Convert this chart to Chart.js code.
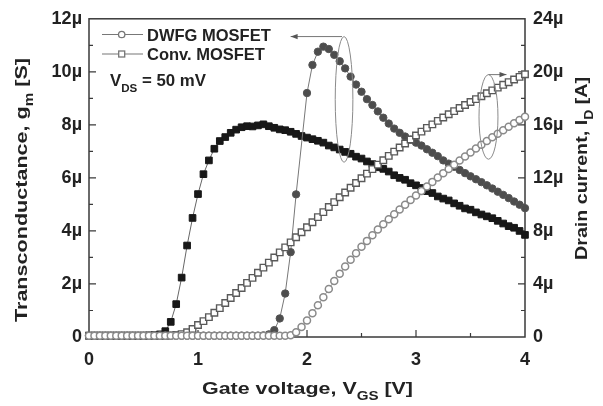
<!DOCTYPE html>
<html><head><meta charset="utf-8">
<script src="https://cdn.jsdelivr.net/npm/chart.js@4"></script>
<style>html,body{margin:0;padding:0;background:#fff}#wrap{width:603px;height:406px;position:relative}</style>
</head><body><div id="wrap"><canvas id="c" width="603" height="406"></canvas></div>
<script>
// Gate voltage (V)
const vgs = [0,0.05,0.1,0.15,0.2,0.25,0.3,0.35,0.4,0.45,
 0.5,0.55,0.6,0.65,0.7,0.75,0.8,0.85,0.9,0.95,
 1,1.05,1.1,1.15,1.2,1.25,1.3,1.35,1.4,1.45,
 1.5,1.55,1.6,1.65,1.7,1.75,1.8,1.85,1.9,1.95,
 2,2.05,2.1,2.15,2.2,2.25,2.3,2.35,2.4,2.45,
 2.5,2.55,2.6,2.65,2.7,2.75,2.8,2.85,2.9,2.95,
 3,3.05,3.1,3.15,3.2,3.25,3.3,3.35,3.4,3.45,
 3.5,3.55,3.6,3.65,3.7,3.75,3.8,3.85,3.9,3.95,
 4];
// Transconductance gm (µS), Conv. MOSFET (filled squares)
const gmConv = [0.05,0.05,0.05,0.05,0.05,0.05,0.05,0.05,0.05,0.05,
 0.05,0.06,0.07,0.10,0.22,0.57,1.24,2.24,3.45,4.49,
 5.39,6.14,6.66,7.10,7.39,7.54,7.70,7.82,7.91,7.95,
 7.94,7.98,8.02,7.95,7.89,7.83,7.80,7.74,7.66,7.58,
 7.52,7.46,7.40,7.33,7.22,7.15,7.07,6.98,6.91,6.80,
 6.73,6.62,6.52,6.40,6.34,6.24,6.10,6.00,5.93,5.80,
 5.72,5.62,5.50,5.43,5.30,5.22,5.15,5.04,4.95,4.85,
 4.80,4.70,4.62,4.55,4.48,4.38,4.28,4.18,4.12,4.00,
 3.85];
// Transconductance gm (µS), DWFG MOSFET (filled circles)
const gmDwfg = [0.05,0.05,0.05,0.05,0.05,0.05,0.05,0.05,0.05,0.05,
 0.05,0.05,0.05,0.05,0.05,0.05,0.05,0.05,0.05,0.05,
 0.05,0.05,0.05,0.05,0.05,0.05,0.05,0.05,0.05,0.05,
 0.05,0.05,0.06,0.10,0.26,0.70,1.64,3.20,5.38,null,
 9.20,10.26,10.76,10.95,10.86,10.64,10.40,10.13,9.82,9.52,
 9.25,8.97,8.75,8.51,8.27,8.05,7.86,7.70,7.56,7.44,
 7.33,7.22,7.08,6.95,6.82,6.66,6.54,6.42,6.30,6.18,
 6.06,5.95,5.84,5.72,5.60,5.48,5.36,5.24,5.11,4.99,
 4.86];
// Drain current ID (µA), Conv. MOSFET (open squares)
const idConv = [0.1,0.1,0.1,0.1,0.1,0.1,0.1,0.1,0.1,0.1,
 0.1,0.1,0.1,0.1,0.1,0.12,0.16,0.22,0.36,0.6,
 0.9,1.2,1.5,1.83,2.18,2.56,2.94,3.32,3.7,4.08,
 4.46,4.85,5.23,5.61,6.0,6.38,6.76,7.14,7.52,7.9,
 8.28,8.66,9.04,9.42,9.8,10.17,10.54,10.9,11.26,11.62,
 11.97,12.32,12.66,13.0,13.33,13.66,13.98,14.29,14.6,14.9,
 15.2,15.49,15.77,16.04,16.3,16.56,16.8,17.04,17.27,17.5,
 17.72,17.94,18.16,18.38,18.6,18.81,19.02,19.22,19.42,19.62,
 19.82];
// Drain current ID (µA), DWFG MOSFET (open circles)
const idDwfg = [0.1,0.1,0.1,0.1,0.1,0.1,0.1,0.1,0.1,0.1,
 0.1,0.1,0.1,0.1,0.1,0.1,0.1,0.1,0.1,0.1,
 0.1,0.1,0.1,0.1,0.1,0.1,0.1,0.1,0.1,0.1,
 0.1,0.1,0.1,0.1,0.1,0.1,0.1,0.14,0.35,0.75,
 1.25,1.8,2.4,3.0,3.62,4.22,4.78,5.32,5.83,6.32,
 6.8,7.25,7.68,8.1,8.5,8.88,9.26,9.62,9.98,10.33,
 10.68,11.02,11.36,11.7,12.03,12.36,12.68,13.0,13.31,13.62,
 13.92,14.22,14.5,14.78,15.06,15.33,15.6,15.86,16.12,16.37,
 16.62];

const xTickValues = [0,1,2,3,4];
const xTickLabels = ['0','1','2','3','4'];
const gmTickValues = [0,2,4,6,8,10,12];
const gmTickLabels = ['0','2µ','4µ','6µ','8µ','10µ','12µ'];
const idTickValues = [0,4,8,12,16,20,24];
const idTickLabels = ['0','4µ','8µ','12µ','16µ','20µ','24µ'];
const seriesNames = ['DWFG MOSFET','Conv. MOSFET'];

const FONT = '"Liberation Sans", Arial, Helvetica, sans-serif';
const TXT = '#222';
const AX = '#3a3a3a';

function pts(ys){ return vgs.map((v,i)=>({x:v,y:ys[i]})); }

function richText(ctx, parts, x, y, rot, size, targetW, align){
  ctx.save();
  ctx.fillStyle = TXT;
  ctx.textBaseline = 'alphabetic';
  ctx.textAlign = 'left';
  const sub = Math.round(size*0.68);
  let w = 0;
  parts.forEach(p=>{ ctx.font = 'bold '+(p.sub?sub:size)+'px '+FONT; p.w = ctx.measureText(p.t).width; w += p.w; });
  const sx = targetW ? targetW/w : 1;
  ctx.translate(x, y); ctx.rotate(rot); ctx.scale(sx,1);
  let cx = align==='left' ? 0 : -w/2;
  const base = size*0.716/2;
  parts.forEach(p=>{ ctx.font = 'bold '+(p.sub?sub:size)+'px '+FONT; ctx.fillText(p.t, cx, base + (p.sub? size*0.36:0)); cx += p.w; });
  ctx.restore();
}

function arrowLine(ctx, x1, y, x2){
  ctx.beginPath(); ctx.moveTo(x1,y); ctx.lineTo(x2,y); ctx.stroke();
  const d = x2 > x1 ? 1 : -1;
  ctx.beginPath(); ctx.moveTo(x2,y); ctx.lineTo(x2-d*7,y-2.6); ctx.lineTo(x2-d*7,y+2.6); ctx.closePath(); ctx.fill();
}

const deco = {
  id:'deco',
  beforeDatasetsDraw(chart){
    const {ctx, chartArea:a} = chart;
    ctx.save();
    ctx.strokeStyle = AX; ctx.lineWidth = 1.5;
    ctx.strokeRect(a.left, a.top, a.right-a.left, a.bottom-a.top);
    const xs = chart.scales.x, yl = chart.scales.y, yr = chart.scales.y2;
    ctx.lineWidth = 1.2;
    ctx.beginPath();
    for (let v=0.5; v<4; v+=0.5){ const p = xs.getPixelForValue(v); const L = (v%1===0)?7:4; ctx.moveTo(p,a.bottom); ctx.lineTo(p,a.bottom-L); }
    for (let v=1; v<12; v+=1){ const p = yl.getPixelForValue(v); const L = (v%2===0)?7:4; ctx.moveTo(a.left,p); ctx.lineTo(a.left+L,p); }
    for (let v=2; v<24; v+=2){ const p = yr.getPixelForValue(v); const L = (v%4===0)?7:4; ctx.moveTo(a.right,p); ctx.lineTo(a.right-L,p); }
    ctx.stroke();
    ctx.restore();
  },
  afterDatasetsDraw(chart){
    const {ctx} = chart;
    const xs = chart.scales.x, yl = chart.scales.y, yr = chart.scales.y2;
    // axis titles
    richText(ctx,[{t:'Gate voltage, V'},{t:'GS',sub:true},{t:' [V]'}], 307.5, 387.5, 0, 17, 211);
    richText(ctx,[{t:'Transconductance, g'},{t:'m',sub:true},{t:' [S]'}], 21, 190, -Math.PI/2, 17, 264);
    richText(ctx,[{t:'Drain current, I'},{t:'D',sub:true},{t:' [A]'}], 581, 168.5, -Math.PI/2, 17, 183);
    // legend
    ctx.save();
    ctx.strokeStyle = '#777'; ctx.lineWidth = 1.2;
    ctx.beginPath(); ctx.moveTo(102,34.5); ctx.lineTo(143,34.5); ctx.moveTo(102,54); ctx.lineTo(143,54); ctx.stroke();
    ctx.fillStyle = '#fff'; ctx.lineWidth = 1.3;
    ctx.beginPath(); ctx.arc(121.7,34.5,3.2,0,Math.PI*2); ctx.fill(); ctx.stroke();
    ctx.fillRect(118.7,51,6,6); ctx.strokeRect(118.7,51,6,6);
    ctx.fillStyle = TXT; ctx.font = 'bold 16.5px '+FONT; ctx.textBaseline = 'alphabetic'; ctx.textAlign='left';
    ctx.fillText(seriesNames[0], 147, 40.5);
    ctx.fillText(seriesNames[1], 147, 60);
    ctx.restore();
    richText(ctx,[{t:'V'},{t:'DS',sub:true},{t:' = 50 mV'}], 110, 80.5, 0, 16, 96, 'left');
    // annotations: ellipses with arrows pointing to the respective axis
    ctx.save();
    ctx.strokeStyle = '#8a8a8a'; ctx.fillStyle = '#555'; ctx.lineWidth = 1;
    const e1x = xs.getPixelForValue(2.34), e1y = yl.getPixelForValue(8.96);
    const e1rx = xs.getPixelForValue(2.34+0.081)-e1x, e1ry = e1y - yl.getPixelForValue(8.96+2.37);
    ctx.beginPath(); ctx.ellipse(e1x, e1y, e1rx, e1ry, 0, 0, Math.PI*2); ctx.stroke();
    ctx.strokeStyle = '#777';
    arrowLine(ctx, e1x-2, e1y-e1ry, xs.getPixelForValue(1.85));
    ctx.strokeStyle = '#8a8a8a';
    const e2x = xs.getPixelForValue(3.665), e2y = yr.getPixelForValue(16.6);
    const e2rx = xs.getPixelForValue(3.665+0.087)-e2x, e2ry = e2y - yr.getPixelForValue(16.6+3.19);
    ctx.beginPath(); ctx.ellipse(e2x, e2y, e2rx, e2ry, 0, 0, Math.PI*2); ctx.stroke();
    ctx.strokeStyle = '#777';
    arrowLine(ctx, e2x, e2y-e2ry, xs.getPixelForValue(3.83));
    ctx.restore();
  }
};

const tickFont = {family: FONT, size: 18, weight: 'bold'};

new Chart(document.getElementById('c'), {
  type: 'line',
  data: {
    datasets: [
      { label: seriesNames[0]+' ID', data: pts(idDwfg), yAxisID:'y2', borderColor:'#999', borderWidth:1,
        pointStyle:'circle', pointRadius:3.5, pointBackgroundColor:'#fff', pointBorderColor:'#8a8a8a', pointBorderWidth:1.5, clip:false },
      { label: seriesNames[1]+' ID', data: pts(idConv), yAxisID:'y2', borderColor:'#888', borderWidth:1,
        pointStyle:'rect', pointRadius:4.6, pointBackgroundColor:'#fff', pointBorderColor:'#5a5a5a', pointBorderWidth:1.4, clip:false },
      { label: seriesNames[0]+' gm', data: pts(gmDwfg), yAxisID:'y', borderColor:'#777', borderWidth:1, spanGaps:true,
        pointStyle:'circle', pointRadius:3.7, pointBackgroundColor:'#4d4d4d', pointBorderColor:'#555', pointBorderWidth:1, clip:false },
      { label: seriesNames[1]+' gm', data: pts(gmConv), yAxisID:'y', borderColor:'#666', borderWidth:1,
        pointStyle:'rect', pointRadius:4.7, pointBackgroundColor:'#181818', pointBorderColor:'#181818', pointBorderWidth:1, clip:false }
    ]
  },
  options: {
    responsive:false, animation:false, devicePixelRatio:1,
    layout:{padding:{top:17,left:0,right:0,bottom:0}},
    plugins:{legend:{display:false}, tooltip:{enabled:false}},
    elements:{line:{tension:0}},
    scales:{
      x:{type:'linear', position:'bottom', min:0, max:4,
         afterBuildTicks(s){ s.ticks = xTickValues.map(v=>({value:v})); },
         afterFit(s){ s.height = 69; },
         grid:{display:false, drawTicks:false}, border:{display:false},
         ticks:{font:tickFont, color:TXT, padding:12, maxRotation:0, autoSkip:false,
           callback:(v,i)=>xTickLabels[i]}},
      y:{type:'linear', position:'left', min:0, max:12,
         afterBuildTicks(s){ s.ticks = gmTickValues.map(v=>({value:v})); },
         afterFit(s){ s.width = 89; },
         grid:{display:false, drawTicks:false}, border:{display:false},
         ticks:{font:tickFont, color:TXT, padding:7, autoSkip:false,
           callback:(v,i)=>gmTickLabels[i]}},
      y2:{type:'linear', position:'right', min:0, max:24,
         afterBuildTicks(s){ s.ticks = idTickValues.map(v=>({value:v})); },
         afterFit(s){ s.width = 78; },
         grid:{display:false, drawTicks:false}, border:{display:false},
         ticks:{font:tickFont, color:TXT, padding:8, autoSkip:false,
           callback:(v,i)=>idTickLabels[i]}}
    }
  },
  plugins:[deco]
});
</script>
</body></html>
